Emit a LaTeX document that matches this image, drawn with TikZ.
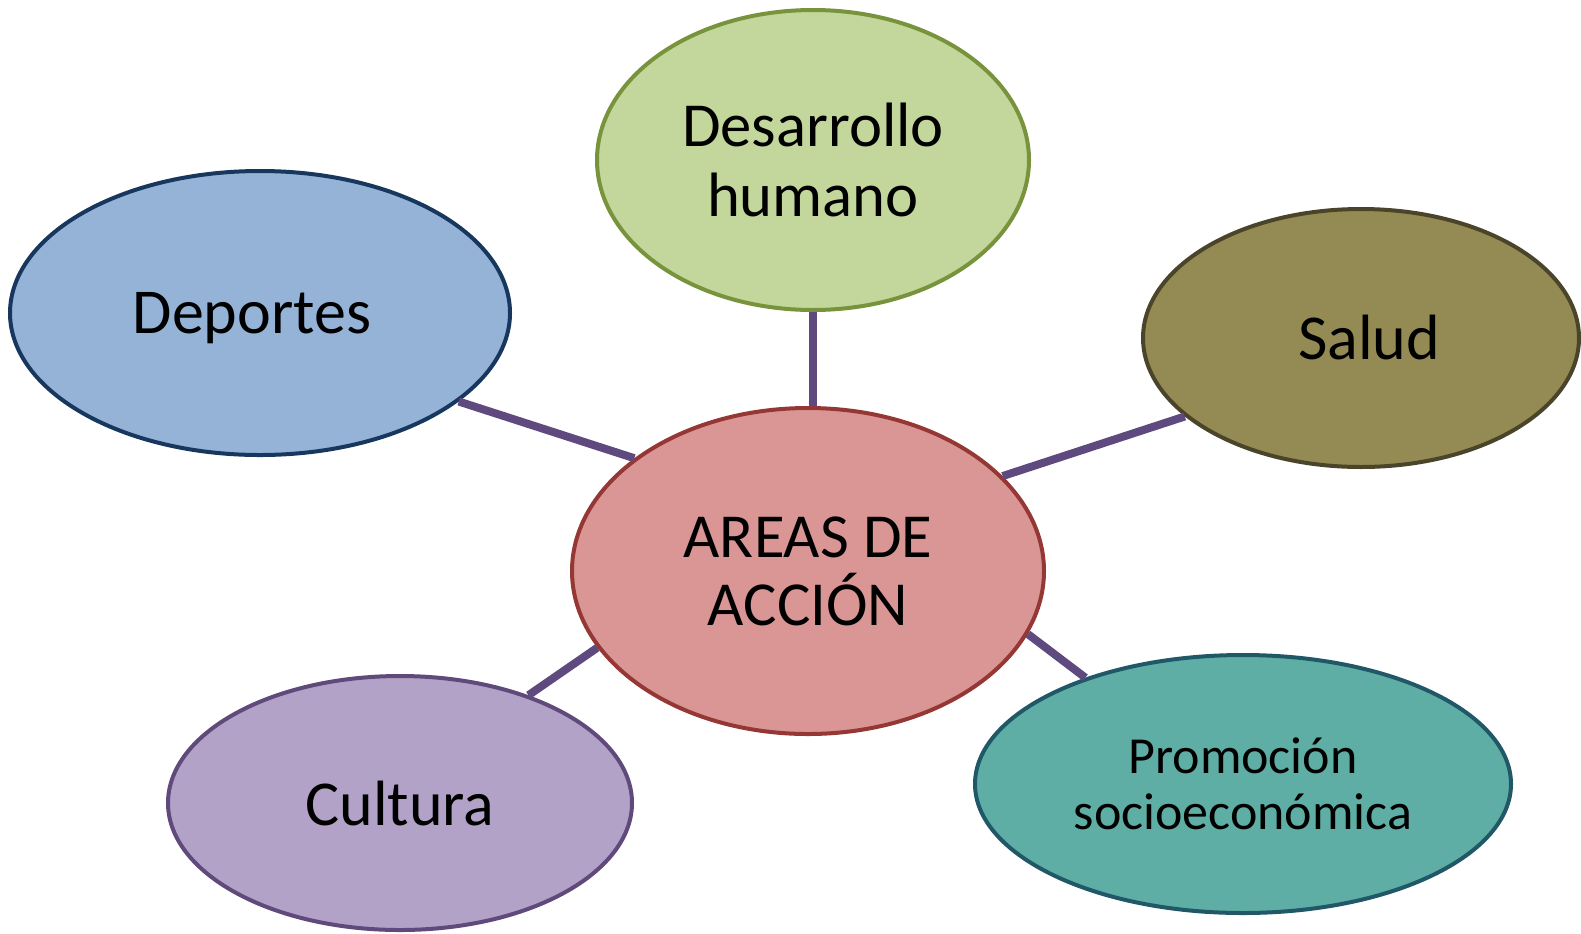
\documentclass[tikz,border=0pt]{standalone}
\usepackage{fontspec}
\setmainfont{Carlito}
\usetikzlibrary{shapes.geometric}
\definecolor{desfill}{HTML}{C3D69B}
\definecolor{desline}{HTML}{77933C}
\definecolor{depfill}{HTML}{95B3D7}
\definecolor{depline}{HTML}{17375E}
\definecolor{salfill}{HTML}{948A54}
\definecolor{salline}{HTML}{4A452A}
\definecolor{accfill}{HTML}{D99694}
\definecolor{accline}{HTML}{953735}
\definecolor{culfill}{HTML}{B3A2C7}
\definecolor{culline}{HTML}{604A7B}
\definecolor{profill}{HTML}{5FAEA5}
\definecolor{proline}{HTML}{215868}
\definecolor{linkcol}{HTML}{5E4A7E}
\begin{document}
\begin{tikzpicture}[x=0.75pt,y=-0.75pt,
    bubble/.style={ellipse, draw, line width=3pt, inner sep=0pt, align=center},
    link/.style={draw=linkcol, line width=6pt}]
  \useasboundingbox (0,0) rectangle (1581,933);
  \node[bubble, fill=desfill, draw=desline, minimum width=324pt, minimum height=225pt,
        font=\fontsize{47}{52.5}\selectfont] (des) at (813,160) {Desarrollo\\humano};
  \node[bubble, fill=depfill, draw=depline, minimum width=375pt, minimum height=213pt,
        font=\fontsize{48}{56}\selectfont] (dep) at (260,313) {\hspace*{-12pt}\raisebox{-4pt}[\height][\depth]{Deportes}};
  \node[bubble, fill=salfill, draw=salline, minimum width=327pt, minimum height=193.5pt,
        font=\fontsize{48}{56}\selectfont] (sal) at (1361,338) {\hspace*{12pt}Salud};
  \node[bubble, fill=accfill, draw=accline, minimum width=354pt, minimum height=244.5pt,
        font=\fontsize{47}{51}\selectfont] (acc) at (808,571) {AREAS DE\\ACCIÓN};
  \node[bubble, fill=culfill, draw=culline, minimum width=348pt, minimum height=190.5pt,
        font=\fontsize{48}{56}\selectfont] (cul) at (400,803) {Cultura};
  \node[bubble, fill=profill, draw=proline, minimum width=402pt, minimum height=193.5pt,
        font=\fontsize{39}{42}\selectfont] (pro) at (1243,784) {Promoción\\socioeconómica};
  % connectors
  \draw[link] (des.south) -- (des.south |- acc.north);
  \draw[link] (dep.-24) -- (acc.147);
  \draw[link] (sal.204) -- (acc.26);
  \draw[link] (acc.-16) -- (pro.146);
  \draw[link] (acc.200) -- (cul.40);
\end{tikzpicture}
\end{document}
